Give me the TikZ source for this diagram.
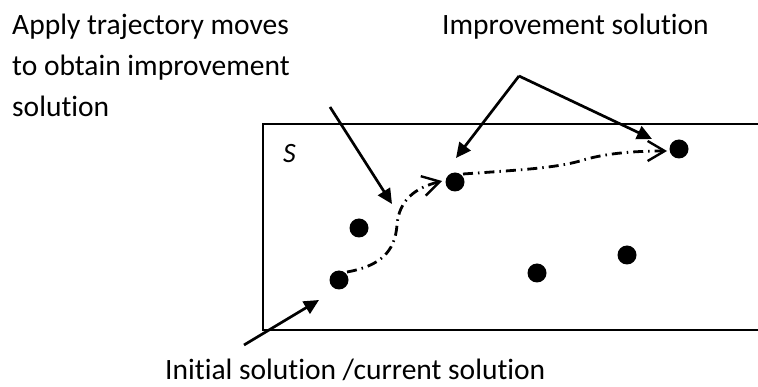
\documentclass[tikz,border=0pt]{standalone}
\usepackage{fontspec}
\setmainfont{Carlito}[Ligatures=NoCommon]
\usetikzlibrary{arrows.meta}
\begin{document}
\begin{tikzpicture}[x=1pt,y=-1pt,
  dot/.style={circle,fill=black,inner sep=0pt,minimum size=19pt},
  lbl/.style={inner sep=0pt,anchor=base west,font=\fontsize{29.5}{41}\selectfont,align=left},
  callout/.style={line width=2.7pt,-{Triangle[length=15pt,width=14pt]}},
  trajectory/.style={line width=2.8pt,dash pattern=on 10pt off 5pt on 1.5pt off 5pt,-{Straight Barb[length=17pt,width=20pt,line width=2.4pt]}}]
\useasboundingbox (0,0) rectangle (758,387);
% search space (its right side lies beyond the picture)
\begin{scope}
\clip (0,0) rectangle (758,387);
\draw[line width=2.2pt] (263,124) rectangle (765,330);
\end{scope}
\node[inner sep=0pt,anchor=base west,font=\fontsize{28}{32}\selectfont\itshape] (s) at (283,163) {S};
% solutions
\node[dot] (init) at (339,280) {};
\node[dot] (d2) at (359,228) {};
\node[dot] (imp1) at (455,182) {};
\node[dot] (imp2) at (679,149) {};
\node[dot] (d5) at (537,273) {};
\node[dot] (d6) at (627,255) {};
% labels
\node[lbl] (apply) at (12,117) {Apply trajectory moves\\to obtain improvement\\solution};
\node[lbl] (improv) at (442,35) {Improvement solution};
\node[lbl] (initlbl) at (165,379) {Initial solution /current solution};
% callout coordinates
\coordinate (applyfrom) at (330,107);
\coordinate (applyto) at (392,204);
\coordinate (impv) at (519,76);
\coordinate (imp1to) at (456,158);
\coordinate (imp2to) at (652,139);
\coordinate (initfrom) at (244,345);
\coordinate (initto) at (319,300);
% trajectory
\coordinate (t1s) at (347,272);
\coordinate (t1e) at (442,181);
\coordinate (t2s) at (463,174);
\coordinate (t2e) at (667,151);
\draw[trajectory] (t1s) .. controls (380,266) and (395,252) .. (397,225) .. controls (399,200) and (415,188) .. (t1e);
\draw[trajectory] (t2s) .. controls (520,170) and (555,168) .. (580,161) .. controls (602,154) and (630,151) .. (t2e);
% callouts
\draw[callout] (applyfrom) -- (applyto);
\draw[callout] (impv) -- (imp1to);
\draw[callout] (impv) -- (imp2to);
\draw[callout] (initfrom) -- (initto);
\end{tikzpicture}
\end{document}
